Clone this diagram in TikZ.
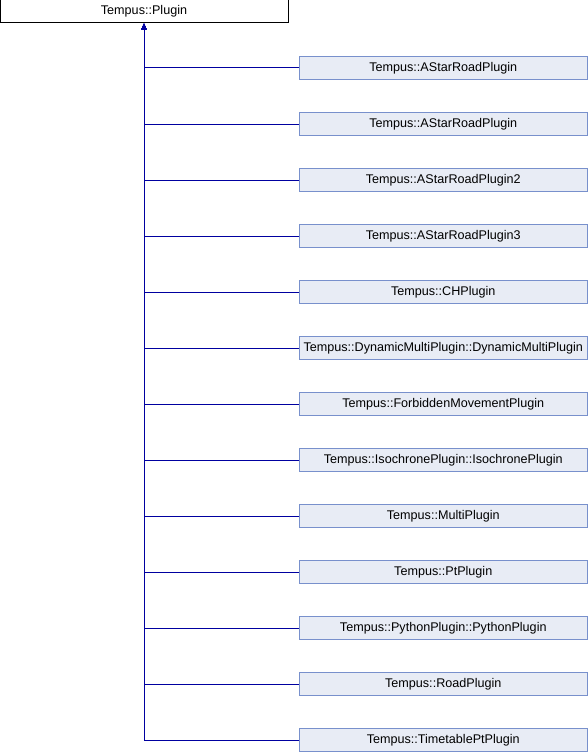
\documentclass[tikz,border=0pt]{standalone}
\usepackage{fontspec}
\setmainfont{Liberation Sans}
\usetikzlibrary{arrows.meta}
\definecolor{edgeblue}{RGB}{0,0,160}
\definecolor{boxfill}{RGB}{232,236,245}
\definecolor{boxline}{RGB}{120,144,204}
\tikzset{
  base/.style={draw=black, fill=white, line width=1pt, minimum width=288pt, minimum height=23pt, inner sep=0pt, font=\fontsize{12.6}{14}\selectfont},
  derived/.style={base, draw=boxline, fill=boxfill, minimum width=287.5pt},
  inherit/.style={draw=edgeblue, line width=1pt, -{Triangle[length=6pt,width=5pt]}}
}

\begin{document}
\begin{tikzpicture}[x=1pt,y=-1pt]
  \useasboundingbox (0,0) rectangle (588,752);
  \node[base] (plugin) at (144,11.5) {Tempus::Plugin};
  \foreach \name [count=\i] in {Tempus::AStarRoadPlugin, Tempus::AStarRoadPlugin,
      Tempus::AStarRoadPlugin2, Tempus::AStarRoadPlugin3, Tempus::CHPlugin,
      Tempus::DynamicMultiPlugin::DynamicMultiPlugin, Tempus::ForbiddenMovementPlugin,
      Tempus::IsochronePlugin::IsochronePlugin, Tempus::MultiPlugin, Tempus::PtPlugin,
      Tempus::PythonPlugin::PythonPlugin, Tempus::RoadPlugin, Tempus::TimetablePtPlugin}
  {
    \node[derived] (child\i) at (443.25,{68+56*(\i-1)}) {\name};
    \draw[inherit] (child\i.west) -| (plugin.south);
  }
\end{tikzpicture}
\end{document}
